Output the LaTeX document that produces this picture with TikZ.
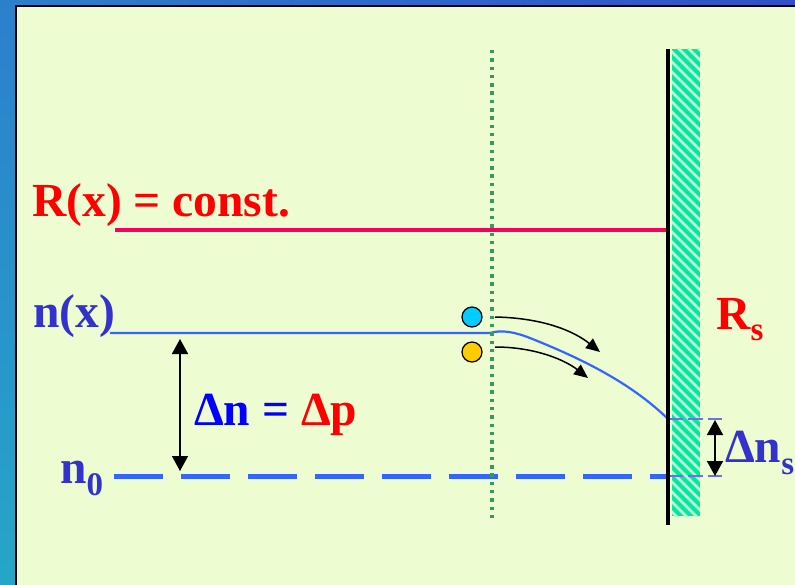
\documentclass[tikz,border=0pt]{standalone}
\usepackage{fontspec}
\setmainfont{Liberation Serif}
\usetikzlibrary{arrows.meta}
\definecolor{panel}{HTML}{EEFCD2}
\definecolor{redt}{HTML}{FF0000}
\definecolor{rline}{HTML}{F5005F}
\definecolor{bline}{HTML}{3366FF}
\definecolor{dblue}{HTML}{3333CC}
\definecolor{bblue}{HTML}{0000FF}
\definecolor{dotgreen}{HTML}{379A62}
\definecolor{hatchg}{HTML}{00E8A8}
\definecolor{hatchl}{HTML}{C4F8C8}
\definecolor{cyanb}{HTML}{00CCFF}
\definecolor{orangeb}{HTML}{FFCC00}
\definecolor{thindash}{HTML}{6E72E0}
\definecolor{frameA}{HTML}{2B80CC}
\definecolor{frameB}{HTML}{3050C8}
\definecolor{frameC}{HTML}{25A6C8}
\newcommand{\subs}[1]{\raisebox{-12pt}{\fontsize{33}{33}\selectfont #1}}
\begin{document}
\begin{tikzpicture}[x=1pt,y=-1pt,
 lbl/.style={anchor=base west,inner sep=0pt,font=\fontsize{47.5}{50}\selectfont\bfseries},
 dimarrow/.style={line width=1.7pt,{Triangle[length=15pt,width=16pt]}-{Triangle[length=15pt,width=16pt]}},
 flowarrow/.style={line width=1.5pt,-{Triangle[length=14pt,width=12pt]}},
 particle/.style={circle,draw=black,line width=1.2pt,minimum size=20pt,inner sep=0pt}]
\useasboundingbox (0,0) rectangle (795,585);
\shade[left color=frameA,right color=frameB] (0,0) rectangle (795,585);
\shade[top color=frameA,bottom color=frameC] (0,0) rectangle (16,585);
\filldraw[fill=panel,draw=black,line width=2pt] (16,6) rectangle (805,595);
% hatched wall
\fill[hatchg] (672,49) rectangle (700,516);
\begin{scope}
\clip (672,49) rectangle (700,516);
\foreach \k in {-60,-50,...,530} \draw[hatchl,line width=2.8pt] (660,\k) -- ++(50,50);
\end{scope}
% R(x) line
\coordinate (rl0) at (115,230);
\coordinate (rl1) at (668,230);
\draw[rline,line width=3.3pt] (rl0) -- (rl1);
% n(x) curve
\coordinate (c0) at (110,333);
\coordinate (c1) at (490,333);
\coordinate (c2) at (530,338);
\coordinate (c3) at (668,419);
\draw[bline,line width=2.2pt] (c0) -- (c1) .. controls (500,330) and (512,331) .. (c2) .. controls (580,358) and (630,382) .. (c3);
% n0 dashed
\coordinate (nz0) at (114,476);
\coordinate (nz1) at (668,476);
\draw[bline,line width=5pt,dash pattern=on 49pt off 18pt] (nz0) -- (nz1);
% thin dashed at surface
\coordinate (s0) at (668,419);
\coordinate (s1) at (722,419);
\coordinate (s2) at (668,476);
\coordinate (s3) at (722,476);
\draw[thindash,line width=1.8pt,dash pattern=on 15pt off 5pt] (s0) -- (s1);
\draw[thindash,line width=1.8pt,dash pattern=on 15pt off 5pt] (s2) -- (s3);
% wall
\coordinate (w0) at (668,49);
\coordinate (w1) at (668,525);
\draw[black,line width=4pt] (w0) -- (w1);
% dotted boundary
\coordinate (d0) at (492,50);
\coordinate (d1) at (492,522);
\draw[dotgreen,line width=3.5pt,dash pattern=on 3.5pt off 4.8pt] (d0) -- (d1);
% dimension arrows
\coordinate (a0) at (180,339);
\coordinate (a1) at (180,471);
\draw[dimarrow] (a0) -- (a1);
\coordinate (b0) at (715,420);
\coordinate (b1) at (715,476);
\draw[dimarrow] (b0) -- (b1);
% particles
\node[particle,fill=cyanb] (hole) at (472,317) {};
\node[particle,fill=orangeb] (elec) at (472,352) {};
\coordinate (f1) at (600,352);
\coordinate (f2) at (588,378);
\draw[flowarrow] (495,317) .. controls (545,318) and (575,332) .. (f1);
\draw[flowarrow] (495,347) .. controls (535,347) and (565,360) .. (f2);
% labels
\node[lbl,text=redt] (rconst) at (32,217) {R(x) = const.};
\node[lbl,text=dblue] (nx) at (33,327) {n(x)};
\node[lbl] (dn) at (194,425) {\textcolor{bblue}{Δn =} \textcolor{redt}{Δp}};
\node[lbl,text=dblue] (nzero) at (60,483) {n\subs{0}};
\node[lbl,text=redt] (rs) at (716,329) {R\subs{s}};
\node[lbl,text=dblue] (dns) at (725,462) {Δn\subs{s}};
\end{tikzpicture}
\end{document}
